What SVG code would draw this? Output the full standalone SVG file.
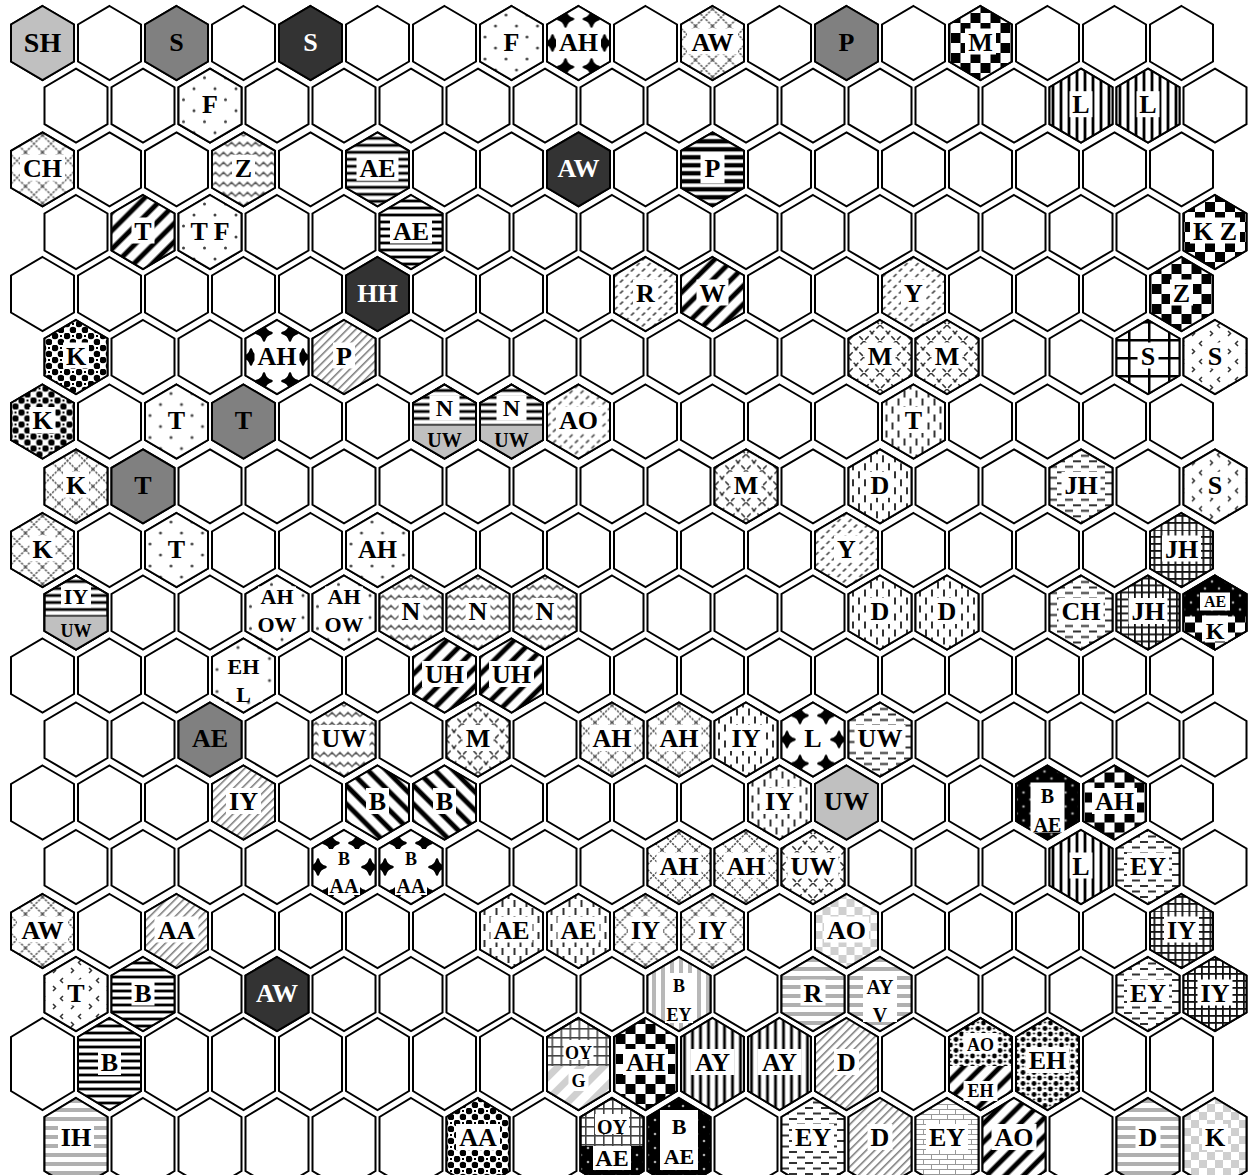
<svg xmlns="http://www.w3.org/2000/svg" width="1255" height="1175" viewBox="0 0 1255 1175">
<style>
.o{stroke:#000;stroke-width:2}
.t{font-family:"Liberation Serif","Times New Roman",serif;font-weight:bold;font-size:26px;text-anchor:middle;fill:#000}
.tw{fill:#fff}
.w{fill:#fff}
.s20{font-size:20px}
.s22{font-size:22px}
.s18{font-size:18px}
.s16{font-size:16px}
</style>
<defs>
<path id="h" d="M0,-37L31.5,-18.5V18.5L0,37L-31.5,18.5V-18.5Z"/>
<path id="ht" d="M0,-46L31.5,-27V27L0,46L-31.5,27V-27Z"/>
<path id="hb" d="M-31.5,4H31.5V18.5L0,37L-31.5,18.5Z"/>
<path id="hbt" d="M-31.5,2H31.5V27L0,46L-31.5,27Z"/>
<g id="rA"><use href="#h" x="42.5"/><use href="#h" x="109.5"/><use href="#h" x="176.5"/><use href="#h" x="243.5"/><use href="#h" x="310.5"/><use href="#h" x="377.5"/><use href="#h" x="444.5"/><use href="#h" x="511.5"/><use href="#h" x="578.5"/><use href="#h" x="645.5"/><use href="#h" x="712.5"/><use href="#h" x="779.5"/><use href="#h" x="846.5"/><use href="#h" x="913.5"/><use href="#h" x="980.5"/><use href="#h" x="1047.5"/><use href="#h" x="1114.5"/><use href="#h" x="1181.5"/></g>
<g id="rB"><use href="#h" x="76"/><use href="#h" x="143"/><use href="#h" x="210"/><use href="#h" x="277"/><use href="#h" x="344"/><use href="#h" x="411"/><use href="#h" x="478"/><use href="#h" x="545"/><use href="#h" x="612"/><use href="#h" x="679"/><use href="#h" x="746"/><use href="#h" x="813"/><use href="#h" x="880"/><use href="#h" x="947"/><use href="#h" x="1014"/><use href="#h" x="1081"/><use href="#h" x="1148"/><use href="#h" x="1215"/></g>
<g id="rAT"><use href="#ht" x="42.5"/><use href="#ht" x="109.5"/><use href="#ht" x="176.5"/><use href="#ht" x="243.5"/><use href="#ht" x="310.5"/><use href="#ht" x="377.5"/><use href="#ht" x="444.5"/><use href="#ht" x="511.5"/><use href="#ht" x="578.5"/><use href="#ht" x="645.5"/><use href="#ht" x="712.5"/><use href="#ht" x="779.5"/><use href="#ht" x="846.5"/><use href="#ht" x="913.5"/><use href="#ht" x="980.5"/><use href="#ht" x="1047.5"/><use href="#ht" x="1114.5"/><use href="#ht" x="1181.5"/></g>
<g id="rBT"><use href="#ht" x="76"/><use href="#ht" x="143"/><use href="#ht" x="210"/><use href="#ht" x="277"/><use href="#ht" x="344"/><use href="#ht" x="411"/><use href="#ht" x="478"/><use href="#ht" x="545"/><use href="#ht" x="612"/><use href="#ht" x="679"/><use href="#ht" x="746"/><use href="#ht" x="813"/><use href="#ht" x="880"/><use href="#ht" x="947"/><use href="#ht" x="1014"/><use href="#ht" x="1081"/><use href="#ht" x="1148"/><use href="#ht" x="1215"/></g>

<pattern id="dots" width="21" height="22" patternUnits="userSpaceOnUse"><rect width="21" height="22" fill="#fff"/><circle cx="5" cy="5" r="1.5" fill="#444"/><circle cx="15.5" cy="16" r="1.5" fill="#444"/></pattern>
<pattern id="diam" width="26" height="48" patternUnits="userSpaceOnUse"><rect width="26" height="48" fill="#fff"/><path d="M0,-7.5Q1.5,-1.5 7.5,0Q1.5,1.5 0,7.5Q-1.5,1.5 -7.5,0Q-1.5,-1.5 0,-7.5ZM26,-7.5Q27.5,-1.5 33.5,0Q27.5,1.5 26,7.5Q24.5,1.5 18.5,0Q24.5,-1.5 26,-7.5ZM0,40.5Q1.5,46.5 7.5,48Q1.5,49.5 0,55.5Q-1.5,49.5 -7.5,48Q-1.5,46.5 0,40.5ZM26,40.5Q27.5,46.5 33.5,48Q27.5,49.5 26,55.5Q24.5,49.5 18.5,48Q24.5,46.5 26,40.5ZM13,16.5Q14.5,22.5 20.5,24Q14.5,25.5 13,31.5Q11.5,25.5 5.5,24Q11.5,22.5 13,16.5Z" fill="#000" stroke="#000" stroke-width="2.5" stroke-linejoin="round"/></pattern>
<pattern id="xh" width="17" height="17" patternUnits="userSpaceOnUse"><rect width="17" height="17" fill="#fff"/><path d="M0,0L17,17M17,0L0,17" stroke="#555" stroke-width="1.5" stroke-dasharray="2.4 1.2"/></pattern>
<pattern id="chk" width="20" height="20" patternUnits="userSpaceOnUse"><rect width="20" height="20" fill="#fff"/><rect width="10" height="10" fill="#000"/><rect x="10" y="10" width="10" height="10" fill="#000"/></pattern>
<pattern id="vs" width="8" height="8" patternUnits="userSpaceOnUse"><rect width="8" height="8" fill="#fff"/><rect x="2" width="4" height="8" fill="#999"/><rect x="3" width="2" height="8" fill="#000"/></pattern>
<pattern id="hs" width="8" height="7" patternUnits="userSpaceOnUse"><rect width="8" height="7" fill="#fff"/><rect y="2" width="8" height="4" fill="#999"/><rect y="3" width="8" height="2" fill="#000"/></pattern>
<pattern id="hsH" width="8" height="8" patternUnits="userSpaceOnUse"><rect width="8" height="8" fill="#fff"/><rect y="1.5" width="8" height="5" fill="#999"/><rect y="2" width="8" height="4" fill="#000"/></pattern>
<pattern id="dt" width="13" height="13" patternUnits="userSpaceOnUse" patternTransform="rotate(45)"><rect width="13" height="13" fill="#fff"/><rect width="6" height="13" fill="#888"/><rect x="1" width="4" height="13" fill="#000"/></pattern>
<pattern id="dtb" width="13" height="13" patternUnits="userSpaceOnUse" patternTransform="rotate(-45)"><rect width="13" height="13" fill="#fff"/><rect width="6" height="13" fill="#888"/><rect x="1" width="4" height="13" fill="#000"/></pattern>
<pattern id="dl" width="6" height="6" patternUnits="userSpaceOnUse" patternTransform="rotate(45)"><rect width="6" height="6" fill="#fff"/><rect width="1.5" height="6" fill="#777"/></pattern>
<pattern id="zz" width="16" height="10" patternUnits="userSpaceOnUse"><rect width="16" height="10" fill="#fff"/><path d="M0,7L4,3L8,7L12,3L16,7" fill="none" stroke="#555" stroke-width="1.5"/></pattern>
<pattern id="dd" width="11" height="11" patternUnits="userSpaceOnUse"><rect width="11" height="11" fill="#fff"/><path d="M2,5L5,2M7.5,10.5L10.5,7.5" stroke="#444" stroke-width="1.6"/></pattern>
<pattern id="dc" width="16" height="16" patternUnits="userSpaceOnUse"><rect width="16" height="16" fill="#fff"/><path d="M0,0L16,16M16,0L0,16" stroke="#333" stroke-width="1.5" stroke-dasharray="5 3"/></pattern>
<pattern id="circ" width="12" height="12" patternUnits="userSpaceOnUse"><rect width="12" height="12" fill="#fff"/><circle cx="3" cy="3" r="3.3" fill="#000"/><circle cx="9" cy="9" r="3.3" fill="#000"/><rect x="8" y="2" width="2" height="2" fill="#000"/></pattern>
<pattern id="gw" width="20" height="18" patternUnits="userSpaceOnUse"><rect width="20" height="18" fill="#fff"/><rect width="2.5" height="18" fill="#000"/><rect width="20" height="2.5" fill="#000"/></pattern>
<pattern id="gr" width="7" height="7" patternUnits="userSpaceOnUse"><rect width="7" height="7" fill="#fff"/><rect width="1.8" height="7" fill="#111"/><rect width="7" height="1.8" fill="#111"/></pattern>
<pattern id="grl" width="9" height="9" patternUnits="userSpaceOnUse"><rect width="9" height="9" fill="#fff"/><rect width="1.6" height="9" fill="#444"/><rect width="9" height="1.6" fill="#444"/></pattern>
<pattern id="sq" width="18" height="18" patternUnits="userSpaceOnUse"><rect width="18" height="18" fill="#fff"/><path d="M5,2L2.5,4.5L5,7M13,10L15.5,12.5L13,15" fill="none" stroke="#333" stroke-width="1.5"/></pattern>
<pattern id="vd" width="12" height="16" patternUnits="userSpaceOnUse"><rect width="12" height="16" fill="#fff"/><path d="M3,1V8M9,9V16" stroke="#333" stroke-width="2"/></pattern>
<pattern id="hd" width="16" height="11" patternUnits="userSpaceOnUse"><rect width="16" height="11" fill="#fff"/><path d="M0,2.5H8M8,8H16" stroke="#333" stroke-width="1.8"/></pattern>
<pattern id="gs" width="10" height="9" patternUnits="userSpaceOnUse"><rect width="10" height="9" fill="#fff"/><rect width="10" height="4" fill="#b0b0b0"/></pattern>
<pattern id="gc" width="16" height="16" patternUnits="userSpaceOnUse"><rect width="16" height="16" fill="#fff"/><rect width="8" height="8" fill="#cfcfcf"/><rect x="8" y="8" width="8" height="8" fill="#cfcfcf"/></pattern>
<pattern id="bd" width="14" height="14" patternUnits="userSpaceOnUse"><rect width="14" height="14" fill="#000"/><circle cx="4" cy="4" r="1.3" fill="#aaa"/><circle cx="11" cy="11" r="1.3" fill="#aaa"/></pattern>
<pattern id="leo" width="11" height="11" patternUnits="userSpaceOnUse"><rect width="11" height="11" fill="#fff"/><circle cx="3" cy="3" r="2.4" fill="#000"/><circle cx="8.5" cy="8.5" r="2.4" fill="#000"/><circle cx="8.5" cy="2.5" r="1.1" fill="#000"/><circle cx="2.5" cy="8.5" r="1.1" fill="#000"/></pattern>
<pattern id="brk" width="16" height="10" patternUnits="userSpaceOnUse"><rect width="16" height="10" fill="#fff"/><path d="M0,0.5H16M0,5.5H16M0.5,0V5M8.5,5V10" stroke="#999" stroke-width="1"/></pattern>
<pattern id="vsg" width="9" height="9" patternUnits="userSpaceOnUse"><rect width="9" height="9" fill="#fff"/><rect width="4" height="9" fill="#b8b8b8"/></pattern>
<pattern id="gd" width="16" height="16" patternUnits="userSpaceOnUse" patternTransform="rotate(45)"><rect width="16" height="16" fill="#fff"/><rect width="7" height="16" fill="#d0d0d0"/></pattern>
</defs>

<rect width="1255" height="1175" fill="#fff"/>
<g id="grid" fill="#fff" stroke="#000" stroke-width="2">
<use href="#rA" y="43"/><use href="#rB" y="105.7"/><use href="#rA" y="169.3"/><use href="#rB" y="232"/><use href="#rA" y="294"/><use href="#rB" y="357"/><use href="#rA" y="421.5"/><use href="#rB" y="486.3"/><use href="#rA" y="550"/><use href="#rB" y="612.5"/><use href="#rA" y="675.5"/><use href="#rB" y="739.5"/><use href="#rA" y="802.5"/><use href="#rB" y="867"/><use href="#rA" y="931"/><use href="#rB" y="994"/><use href="#rAT" y="1064"/><use href="#rBT" y="1144"/>
</g>

<g id="nodes">
<!-- row 0 -->
<g id="r0c0" transform="translate(42.5,43)"><use href="#h" class="o" fill="#c0c0c0"/><text class="t" y="9" style="font-size:28px">SH</text></g>
<g id="r0c2" transform="translate(176.5,43)"><use href="#h" class="o" fill="#808080"/><text class="t" y="7.5">S</text></g>
<g id="r0c4" transform="translate(310.5,43)"><use href="#h" class="o" fill="#333"/><text class="t tw" y="7.5">S</text></g>
<g id="r0c7" transform="translate(511.5,43)"><use href="#h" class="o" fill="url(#dots)"/><rect class="w" x="-11" y="-14.5" width="22" height="26"/><text class="t" y="7.5">F</text></g>
<g id="r0c8" transform="translate(578.5,43)"><use href="#h" class="o" fill="url(#diam)"/><rect class="w" x="-22.5" y="-14.5" width="45" height="26"/><text class="t" y="7.5">AH</text></g>
<g id="r0c10" transform="translate(712.5,43)"><use href="#h" class="o" fill="url(#xh)"/><rect class="w" x="-25.5" y="-14.5" width="51" height="26"/><text class="t" y="7.5">AW</text></g>
<g id="r0c12" transform="translate(846.5,43)"><use href="#h" class="o" fill="#808080"/><text class="t" y="7.5">P</text></g>
<g id="r0c14" transform="translate(980.5,43)"><use href="#h" class="o" fill="url(#chk)"/><rect class="w" x="-15.5" y="-14.5" width="31" height="26"/><text class="t" y="7.5">M</text></g>
<!-- row 1 -->
<g id="r1c2" transform="translate(210,105.7)"><use href="#h" class="o" fill="url(#dots)"/><rect class="w" x="-11" y="-14.5" width="22" height="26"/><text class="t" y="7.5">F</text></g>
<g id="r1c15" transform="translate(1081,105.7)"><use href="#h" class="o" fill="url(#vs)"/><rect class="w" x="-11.5" y="-14.5" width="23" height="26"/><text class="t" y="7.5">L</text></g>
<g id="r1c16" transform="translate(1148,105.7)"><use href="#h" class="o" fill="url(#vs)"/><rect class="w" x="-11.5" y="-14.5" width="23" height="26"/><text class="t" y="7.5">L</text></g>
<!-- row 2 -->
<g id="r2c0" transform="translate(42.5,169.3)"><use href="#h" class="o" fill="url(#xh)"/><rect class="w" x="-22.5" y="-14.5" width="45" height="26"/><text class="t" y="7.5">CH</text></g>
<g id="r2c3" transform="translate(243.5,169.3)"><use href="#h" class="o" fill="url(#zz)"/><rect class="w" x="-11.5" y="-14.5" width="23" height="26"/><text class="t" y="7.5">Z</text></g>
<g id="r2c5" transform="translate(377.5,169.3)"><use href="#h" class="o" fill="url(#hs)"/><rect class="w" x="-21" y="-14.5" width="42" height="26"/><text class="t" y="7.5">AE</text></g>
<g id="r2c8" transform="translate(578.5,169.3)"><use href="#h" class="o" fill="#333"/><text class="t tw" y="7.5">AW</text></g>
<g id="r2c10" transform="translate(712.5,169.3)"><use href="#h" class="o" fill="url(#hsH)"/><rect class="w" x="-12" y="-17" width="24" height="31"/><text class="t" y="7.5">P</text></g>
<!-- row 3 -->
<g id="r3c1" transform="translate(143,232)"><use href="#h" class="o" fill="url(#dt)"/><rect class="w" x="-11.5" y="-14.5" width="23" height="26"/><text class="t" y="7.5">T</text></g>
<g id="r3c2" transform="translate(210,232)"><use href="#h" class="o" fill="url(#dots)"/><rect class="w" x="-23" y="-14.5" width="46" height="26"/><text class="t" y="7.5">T F</text></g>
<g id="r3c5" transform="translate(411,232)"><use href="#h" class="o" fill="url(#hs)"/><rect class="w" x="-21" y="-14.5" width="42" height="26"/><text class="t" y="7.5">AE</text></g>
<g id="r3c17" transform="translate(1215,232)"><use href="#h" class="o" fill="url(#chk)"/><rect class="w" x="-25" y="-14.5" width="50" height="26"/><text class="t" y="7.5">K Z</text></g>
<!-- row 4 -->
<g id="r4c5" transform="translate(377.5,294)"><use href="#h" class="o" fill="#333"/><text class="t tw" y="7.5">HH</text></g>
<g id="r4c9" transform="translate(645.5,294)"><use href="#h" class="o" fill="url(#dd)"/><rect class="w" x="-12.5" y="-14.5" width="25" height="26"/><text class="t" y="7.5">R</text></g>
<g id="r4c10" transform="translate(712.5,294)"><use href="#h" class="o" fill="url(#dt)"/><rect class="w" x="-16" y="-14.5" width="32" height="26"/><text class="t" y="7.5">W</text></g>
<g id="r4c13" transform="translate(913.5,294)"><use href="#h" class="o" fill="url(#dd)"/><rect class="w" x="-12.5" y="-14.5" width="25" height="26"/><text class="t" y="7.5">Y</text></g>
<g id="r4c17" transform="translate(1181.5,294)"><use href="#h" class="o" fill="url(#chk)"/><rect class="w" x="-11.5" y="-14.5" width="23" height="26"/><text class="t" y="7.5">Z</text></g>
<!-- row 5 -->
<g id="r5c0" transform="translate(76,357)"><use href="#h" class="o" fill="url(#circ)"/><rect class="w" x="-13" y="-14.5" width="26" height="26"/><text class="t" y="7.5">K</text></g>
<g id="r5c3" transform="translate(277,357)"><use href="#h" class="o" fill="url(#diam)"/><rect class="w" x="-22.5" y="-14.5" width="45" height="26"/><text class="t" y="7.5">AH</text></g>
<g id="r5c4" transform="translate(344,357)"><use href="#h" class="o" fill="url(#dl)"/><rect class="w" x="-11" y="-14.5" width="22" height="26"/><text class="t" y="7.5">P</text></g>
<g id="r5c12" transform="translate(880,357)"><use href="#h" class="o" fill="url(#dc)"/><rect class="w" x="-15.5" y="-14.5" width="31" height="26"/><text class="t" y="7.5">M</text></g>
<g id="r5c13" transform="translate(947,357)"><use href="#h" class="o" fill="url(#dc)"/><rect class="w" x="-15.5" y="-14.5" width="31" height="26"/><text class="t" y="7.5">M</text></g>
<g id="r5c16" transform="translate(1148,357)"><use href="#h" class="o" fill="url(#gw)"/><rect class="w" x="-10.5" y="-14.5" width="21" height="26"/><text class="t" y="7.5">S</text></g>
<g id="r5c17" transform="translate(1215,357)"><use href="#h" class="o" fill="url(#sq)"/><rect class="w" x="-10.5" y="-14.5" width="21" height="26"/><text class="t" y="7.5">S</text></g>
<!-- row 6 -->
<g id="r6c0" transform="translate(42.5,421.5)"><use href="#h" class="o" fill="url(#circ)"/><rect class="w" x="-13" y="-14.5" width="26" height="26"/><text class="t" y="7.5">K</text></g>
<g id="r6c2" transform="translate(176.5,421.5)"><use href="#h" class="o" fill="url(#dots)"/><rect class="w" x="-11.5" y="-14.5" width="23" height="26"/><text class="t" y="7.5">T</text></g>
<g id="r6c3" transform="translate(243.5,421.5)"><use href="#h" class="o" fill="#808080"/><text class="t" y="7.5">T</text></g>
<g id="r6c6" transform="translate(444.5,421.5)"><use href="#h" class="o" fill="url(#hs)"/><use href="#hb" fill="#c0c0c0"/><use href="#h" class="o" fill="none"/><rect class="w" x="-15" y="-26" width="30" height="25"/><text class="t" y="-6" style="font-size:24px">N</text><text class="t s20" y="25">UW</text></g>
<g id="r6c7" transform="translate(511.5,421.5)"><use href="#h" class="o" fill="url(#hs)"/><use href="#hb" fill="#c0c0c0"/><use href="#h" class="o" fill="none"/><rect class="w" x="-15" y="-26" width="30" height="25"/><text class="t" y="-6" style="font-size:24px">N</text><text class="t s20" y="25">UW</text></g>
<g id="r6c8" transform="translate(578.5,421.5)"><use href="#h" class="o" fill="url(#dd)"/><rect class="w" x="-22.5" y="-14.5" width="45" height="26"/><text class="t" y="7.5">AO</text></g>
<g id="r6c13" transform="translate(913.5,421.5)"><use href="#h" class="o" fill="url(#vd)"/><rect class="w" x="-11.5" y="-14.5" width="23" height="26"/><text class="t" y="7.5">T</text></g>
<!-- row 7 -->
<g id="r7c0" transform="translate(76,486.3)"><use href="#h" class="o" fill="url(#xh)"/><rect class="w" x="-13" y="-14.5" width="26" height="26"/><text class="t" y="7.5">K</text></g>
<g id="r7c1" transform="translate(143,486.3)"><use href="#h" class="o" fill="#808080"/><text class="t" y="7.5">T</text></g>
<g id="r7c10" transform="translate(746,486.3)"><use href="#h" class="o" fill="url(#dc)"/><rect class="w" x="-15.5" y="-14.5" width="31" height="26"/><text class="t" y="7.5">M</text></g>
<g id="r7c12" transform="translate(880,486.3)"><use href="#h" class="o" fill="url(#vd)"/><rect class="w" x="-12.5" y="-14.5" width="25" height="26"/><text class="t" y="7.5">D</text></g>
<g id="r7c15" transform="translate(1081,486.3)"><use href="#h" class="o" fill="url(#hd)"/><rect class="w" x="-19.5" y="-14.5" width="39" height="26"/><text class="t" y="7.5">JH</text></g>
<g id="r7c17" transform="translate(1215,486.3)"><use href="#h" class="o" fill="url(#sq)"/><rect class="w" x="-10.5" y="-14.5" width="21" height="26"/><text class="t" y="7.5">S</text></g>
<!-- row 8 -->
<g id="r8c0" transform="translate(42.5,550)"><use href="#h" class="o" fill="url(#xh)"/><rect class="w" x="-13" y="-14.5" width="26" height="26"/><text class="t" y="7.5">K</text></g>
<g id="r8c2" transform="translate(176.5,550)"><use href="#h" class="o" fill="url(#dots)"/><rect class="w" x="-11.5" y="-14.5" width="23" height="26"/><text class="t" y="7.5">T</text></g>
<g id="r8c5" transform="translate(377.5,550)"><use href="#h" class="o" fill="url(#dots)"/><rect class="w" x="-22.5" y="-14.5" width="45" height="26"/><text class="t" y="7.5">AH</text></g>
<g id="r8c12" transform="translate(846.5,550)"><use href="#h" class="o" fill="url(#dd)"/><rect class="w" x="-12.5" y="-14.5" width="25" height="26"/><text class="t" y="7.5">Y</text></g>
<g id="r8c17" transform="translate(1181.5,550)"><use href="#h" class="o" fill="url(#gr)"/><rect class="w" x="-19.5" y="-14.5" width="39" height="26"/><text class="t" y="7.5">JH</text></g>
<!-- row 9 -->
<g id="r9c0" transform="translate(76,612.5)"><use href="#h" class="o" fill="url(#hs)"/><use href="#hb" fill="#c0c0c0"/><use href="#h" class="o" fill="none"/><rect class="w" x="-15" y="-27" width="30" height="22"/><text class="t s22" y="-9">IY</text><text class="t s18" y="24">UW</text></g>
<g id="r9c3" transform="translate(277,612.5)"><use href="#h" class="o" fill="url(#dots)"/><rect class="w" x="-19" y="-26" width="38" height="44"/><text class="t s22" y="-9">AH</text><text class="t s22" y="19">OW</text></g>
<g id="r9c4" transform="translate(344,612.5)"><use href="#h" class="o" fill="url(#dots)"/><rect class="w" x="-19" y="-26" width="38" height="44"/><text class="t s22" y="-9">AH</text><text class="t s22" y="19">OW</text></g>
<g id="r9c5" transform="translate(411,612.5)"><use href="#h" class="o" fill="url(#zz)"/><rect class="w" x="-12.5" y="-14.5" width="25" height="26"/><text class="t" y="7.5">N</text></g>
<g id="r9c6" transform="translate(478,612.5)"><use href="#h" class="o" fill="url(#zz)"/><rect class="w" x="-12.5" y="-14.5" width="25" height="26"/><text class="t" y="7.5">N</text></g>
<g id="r9c7" transform="translate(545,612.5)"><use href="#h" class="o" fill="url(#zz)"/><rect class="w" x="-12.5" y="-14.5" width="25" height="26"/><text class="t" y="7.5">N</text></g>
<g id="r9c12" transform="translate(880,612.5)"><use href="#h" class="o" fill="url(#vd)"/><rect class="w" x="-12.5" y="-14.5" width="25" height="26"/><text class="t" y="7.5">D</text></g>
<g id="r9c13" transform="translate(947,612.5)"><use href="#h" class="o" fill="url(#vd)"/><rect class="w" x="-12.5" y="-14.5" width="25" height="26"/><text class="t" y="7.5">D</text></g>
<g id="r9c15" transform="translate(1081,612.5)"><use href="#h" class="o" fill="url(#hd)"/><rect class="w" x="-22.5" y="-14.5" width="45" height="26"/><text class="t" y="7.5">CH</text></g>
<g id="r9c16" transform="translate(1148,612.5)"><use href="#h" class="o" fill="url(#gr)"/><rect class="w" x="-19.5" y="-14.5" width="39" height="26"/><text class="t" y="7.5">JH</text></g>
<g id="r9c17" transform="translate(1215,612.5)"><use href="#h" class="o" fill="url(#bd)"/><use href="#hb" fill="url(#chk)"/><use href="#h" class="o" fill="none"/><rect class="w" x="-15" y="-20" width="30" height="18"/><text class="t s16" y="-6">AE</text><rect class="w" x="-13" y="3" width="26" height="26"/><text class="t" y="26" style="font-size:24px">K</text></g>
<!-- row 10 -->
<g id="r10c3" transform="translate(243.5,675.5)"><use href="#h" class="o" fill="url(#dots)"/><rect class="w" x="-19" y="-22" width="38" height="48"/><text class="t s22" y="-2">EH</text><text class="t s22" y="26">L</text></g>
<g id="r10c6" transform="translate(444.5,675.5)"><use href="#h" class="o" fill="url(#dt)"/><rect class="w" x="-22.5" y="-14.5" width="45" height="26"/><text class="t" y="7.5">UH</text></g>
<g id="r10c7" transform="translate(511.5,675.5)"><use href="#h" class="o" fill="url(#dt)"/><rect class="w" x="-22.5" y="-14.5" width="45" height="26"/><text class="t" y="7.5">UH</text></g>
<!-- row 11 -->
<g id="r11c2" transform="translate(210,739.5)"><use href="#h" class="o" fill="#808080"/><text class="t" y="7.5">AE</text></g>
<g id="r11c4" transform="translate(344,739.5)"><use href="#h" class="o" fill="url(#zz)"/><rect class="w" x="-25.5" y="-14.5" width="51" height="26"/><text class="t" y="7.5">UW</text></g>
<g id="r11c6" transform="translate(478,739.5)"><use href="#h" class="o" fill="url(#dc)"/><rect class="w" x="-15.5" y="-14.5" width="31" height="26"/><text class="t" y="7.5">M</text></g>
<g id="r11c8" transform="translate(612,739.5)"><use href="#h" class="o" fill="url(#xh)"/><rect class="w" x="-22.5" y="-14.5" width="45" height="26"/><text class="t" y="7.5">AH</text></g>
<g id="r11c9" transform="translate(679,739.5)"><use href="#h" class="o" fill="url(#xh)"/><rect class="w" x="-22.5" y="-14.5" width="45" height="26"/><text class="t" y="7.5">AH</text></g>
<g id="r11c10" transform="translate(746,739.5)"><use href="#h" class="o" fill="url(#vd)"/><rect class="w" x="-17.5" y="-14.5" width="35" height="26"/><text class="t" y="7.5">IY</text></g>
<g id="r11c11" transform="translate(813,739.5)"><use href="#h" class="o" fill="url(#diam)"/><rect class="w" x="-11.5" y="-14.5" width="23" height="26"/><text class="t" y="7.5">L</text></g>
<g id="r11c12" transform="translate(880,739.5)"><use href="#h" class="o" fill="url(#hd)"/><rect class="w" x="-25.5" y="-14.5" width="51" height="26"/><text class="t" y="7.5">UW</text></g>
<!-- row 12 -->
<g id="r12c3" transform="translate(243.5,802.5)"><use href="#h" class="o" fill="url(#dl)"/><rect class="w" x="-17.5" y="-14.5" width="35" height="26"/><text class="t" y="7.5">IY</text></g>
<g id="r12c5" transform="translate(377.5,802.5)"><use href="#h" class="o" fill="url(#dtb)"/><rect class="w" x="-11.5" y="-14.5" width="23" height="26"/><text class="t" y="7.5">B</text></g>
<g id="r12c6" transform="translate(444.5,802.5)"><use href="#h" class="o" fill="url(#dtb)"/><rect class="w" x="-11.5" y="-14.5" width="23" height="26"/><text class="t" y="7.5">B</text></g>
<g id="r12c11" transform="translate(779.5,802.5)"><use href="#h" class="o" fill="url(#vd)"/><rect class="w" x="-17.5" y="-14.5" width="35" height="26"/><text class="t" y="7.5">IY</text></g>
<g id="r12c12" transform="translate(846.5,802.5)"><use href="#h" class="o" fill="#c0c0c0"/><text class="t" y="7.5">UW</text></g>
<g id="r12c15" transform="translate(1047.5,802.5)"><use href="#h" class="o" fill="url(#bd)"/><rect class="w" x="-17" y="-20" width="34" height="50"/><text class="t s20" y="0">B</text><text class="t s20" y="29">AE</text></g>
<g id="r12c16" transform="translate(1114.5,802.5)"><use href="#h" class="o" fill="url(#chk)"/><rect class="w" x="-22.5" y="-14.5" width="45" height="26"/><text class="t" y="7.5">AH</text></g>
<!-- row 13 -->
<g id="r13c4" transform="translate(344,867)"><use href="#h" class="o" fill="url(#diam)"/><rect class="w" x="-16" y="-18" width="32" height="46"/><text class="t s18" y="-2">B</text><text class="t s20" y="26">AA</text></g>
<g id="r13c5" transform="translate(411,867)"><use href="#h" class="o" fill="url(#diam)"/><rect class="w" x="-16" y="-18" width="32" height="46"/><text class="t s18" y="-2">B</text><text class="t s20" y="26">AA</text></g>
<g id="r13c9" transform="translate(679,867)"><use href="#h" class="o" fill="url(#xh)"/><rect class="w" x="-22.5" y="-14.5" width="45" height="26"/><text class="t" y="7.5">AH</text></g>
<g id="r13c10" transform="translate(746,867)"><use href="#h" class="o" fill="url(#xh)"/><rect class="w" x="-22.5" y="-14.5" width="45" height="26"/><text class="t" y="7.5">AH</text></g>
<g id="r13c11" transform="translate(813,867)"><use href="#h" class="o" fill="url(#dc)"/><rect class="w" x="-25.5" y="-14.5" width="51" height="26"/><text class="t" y="7.5">UW</text></g>
<g id="r13c15" transform="translate(1081,867)"><use href="#h" class="o" fill="url(#vs)"/><rect class="w" x="-11.5" y="-14.5" width="23" height="26"/><text class="t" y="7.5">L</text></g>
<g id="r13c16" transform="translate(1148,867)"><use href="#h" class="o" fill="url(#hd)"/><rect class="w" x="-21" y="-14.5" width="42" height="26"/><text class="t" y="7.5">EY</text></g>
<!-- row 14 -->
<g id="r14c0" transform="translate(42.5,931)"><use href="#h" class="o" fill="url(#xh)"/><rect class="w" x="-25.5" y="-14.5" width="51" height="26"/><text class="t" y="7.5">AW</text></g>
<g id="r14c2" transform="translate(176.5,931)"><use href="#h" class="o" fill="url(#dl)"/><rect class="w" x="-22" y="-14.5" width="44" height="26"/><text class="t" y="7.5">AA</text></g>
<g id="r14c7" transform="translate(511.5,931)"><use href="#h" class="o" fill="url(#vd)"/><rect class="w" x="-21" y="-14.5" width="42" height="26"/><text class="t" y="7.5">AE</text></g>
<g id="r14c8" transform="translate(578.5,931)"><use href="#h" class="o" fill="url(#vd)"/><rect class="w" x="-21" y="-14.5" width="42" height="26"/><text class="t" y="7.5">AE</text></g>
<g id="r14c9" transform="translate(645.5,931)"><use href="#h" class="o" fill="url(#xh)"/><rect class="w" x="-17.5" y="-14.5" width="35" height="26"/><text class="t" y="7.5">IY</text></g>
<g id="r14c10" transform="translate(712.5,931)"><use href="#h" class="o" fill="url(#xh)"/><rect class="w" x="-17.5" y="-14.5" width="35" height="26"/><text class="t" y="7.5">IY</text></g>
<g id="r14c12" transform="translate(846.5,931)"><use href="#h" class="o" fill="url(#gc)"/><rect class="w" x="-22.5" y="-14.5" width="45" height="26"/><text class="t" y="7.5">AO</text></g>
<g id="r14c17" transform="translate(1181.5,931)"><use href="#h" class="o" fill="url(#gr)"/><rect class="w" x="-17.5" y="-14.5" width="35" height="26"/><text class="t" y="7.5">IY</text></g>
<!-- row 15 -->
<g id="r15c0" transform="translate(76,994)"><use href="#h" class="o" fill="url(#sq)"/><rect class="w" x="-11.5" y="-14.5" width="23" height="26"/><text class="t" y="7.5">T</text></g>
<g id="r15c1" transform="translate(143,994)"><use href="#h" class="o" fill="url(#hs)"/><rect class="w" x="-11.5" y="-14.5" width="23" height="26"/><text class="t" y="7.5">B</text></g>
<g id="r15c3" transform="translate(277,994)"><use href="#h" class="o" fill="#333"/><text class="t tw" y="7.5">AW</text></g>
<g id="r15c9" transform="translate(679,994)"><use href="#h" class="o" fill="url(#vsg)"/><rect class="w" x="-14" y="-21" width="28" height="50"/><text class="t s18" y="-2.5">B</text><text class="t s18" y="26.5">EY</text></g>
<g id="r15c11" transform="translate(813,994)"><use href="#h" class="o" fill="url(#gs)"/><rect class="w" x="-12.5" y="-14.5" width="25" height="26"/><text class="t" y="7.5">R</text></g>
<g id="r15c12" transform="translate(880,994)"><use href="#h" class="o" fill="url(#gs)"/><rect class="w" x="-17" y="-20" width="34" height="48"/><text class="t s20" y="0">AY</text><text class="t s20" y="28">V</text></g>
<g id="r15c16" transform="translate(1148,994)"><use href="#h" class="o" fill="url(#hd)"/><rect class="w" x="-21" y="-14.5" width="42" height="26"/><text class="t" y="7.5">EY</text></g>
<g id="r15c17" transform="translate(1215,994)"><use href="#h" class="o" fill="url(#gr)"/><rect class="w" x="-17.5" y="-14.5" width="35" height="26"/><text class="t" y="7.5">IY</text></g>
<!-- row 16 -->
<g id="r16c1" transform="translate(109.5,1064)"><use href="#ht" class="o" fill="url(#hs)"/><rect class="w" x="-11.5" y="-15" width="23" height="26"/><text class="t" y="7">B</text></g>
<g id="r16c8" transform="translate(578.5,1064)"><use href="#ht" class="o" fill="url(#grl)"/><use href="#hbt" fill="url(#gd)"/><use href="#ht" class="o" fill="none"/><rect class="w" x="-15" y="-24" width="30" height="20"/><text class="t s18" y="-5">OY</text><rect class="w" x="-10" y="5" width="20" height="22"/><text class="t s18" y="23">G</text></g>
<g id="r16c9" transform="translate(645.5,1064)"><use href="#ht" class="o" fill="url(#chk)"/><rect class="w" x="-22.5" y="-15" width="45" height="26"/><text class="t" y="7">AH</text></g>
<g id="r16c10" transform="translate(712.5,1064)"><use href="#ht" class="o" fill="url(#vs)"/><rect class="w" x="-22" y="-15" width="44" height="26"/><text class="t" y="7">AY</text></g>
<g id="r16c11" transform="translate(779.5,1064)"><use href="#ht" class="o" fill="url(#vs)"/><rect class="w" x="-22" y="-15" width="44" height="26"/><text class="t" y="7">AY</text></g>
<g id="r16c12" transform="translate(846.5,1064)"><use href="#ht" class="o" fill="url(#dl)"/><rect class="w" x="-12.5" y="-15" width="25" height="26"/><text class="t" y="7">D</text></g>
<g id="r16c14" transform="translate(980.5,1064)"><use href="#ht" class="o" fill="url(#leo)"/><use href="#hbt" fill="url(#dt)"/><use href="#ht" class="o" fill="none"/><rect class="w" x="-17" y="-31" width="34" height="20"/><text class="t s18" y="-13">AO</text><rect class="w" x="-17" y="17" width="34" height="20"/><text class="t s18" y="33">EH</text></g>
<g id="r16c15" transform="translate(1047.5,1064)"><use href="#ht" class="o" fill="url(#leo)"/><rect class="w" x="-21.5" y="-17" width="43" height="26"/><text class="t" y="5">EH</text></g>
<!-- row 17 -->
<g id="r17c0" transform="translate(76,1144)"><use href="#ht" class="o" fill="url(#gs)"/><rect class="w" x="-18" y="-20" width="36" height="26"/><text class="t" y="2">IH</text></g>
<g id="r17c6" transform="translate(478,1144)"><use href="#ht" class="o" fill="url(#circ)"/><rect class="w" x="-22" y="-20" width="44" height="26"/><text class="t" y="2">AA</text></g>
<g id="r17c8" transform="translate(612,1144)"><use href="#ht" class="o" fill="url(#grl)"/><use href="#hbt" fill="url(#bd)"/><use href="#ht" class="o" fill="none"/><rect class="w" x="-17" y="-30" width="34" height="20"/><text class="t s20" y="-10">OY</text><rect class="w" x="-19" y="2" width="38" height="24"/><text class="t" y="22" style="font-size:24px">AE</text></g>
<g id="r17c9" transform="translate(679,1144)"><use href="#ht" class="o" fill="url(#bd)"/><rect class="w" x="-19" y="-34" width="38" height="60"/><text class="t s22" y="-10">B</text><text class="t s22" y="20">AE</text></g>
<g id="r17c11" transform="translate(813,1144)"><use href="#ht" class="o" fill="url(#hd)"/><rect class="w" x="-21" y="-20" width="42" height="26"/><text class="t" y="2">EY</text></g>
<g id="r17c12" transform="translate(880,1144)"><use href="#ht" class="o" fill="url(#dl)"/><rect class="w" x="-12.5" y="-20" width="25" height="26"/><text class="t" y="2">D</text></g>
<g id="r17c13" transform="translate(947,1144)"><use href="#ht" class="o" fill="url(#brk)"/><rect class="w" x="-21" y="-20" width="42" height="26"/><text class="t" y="2">EY</text></g>
<g id="r17c14" transform="translate(1014,1144)"><use href="#ht" class="o" fill="url(#dt)"/><rect class="w" x="-22.5" y="-20" width="45" height="26"/><text class="t" y="2">AO</text></g>
<g id="r17c16" transform="translate(1148,1144)"><use href="#ht" class="o" fill="url(#gs)"/><rect class="w" x="-12.5" y="-20" width="25" height="26"/><text class="t" y="2">D</text></g>
<g id="r17c17" transform="translate(1215,1144)"><use href="#ht" class="o" fill="url(#gc)"/><rect class="w" x="-13" y="-20" width="26" height="26"/><text class="t" y="2">K</text></g>
</g>
<g id="connectors"/>
</svg>
